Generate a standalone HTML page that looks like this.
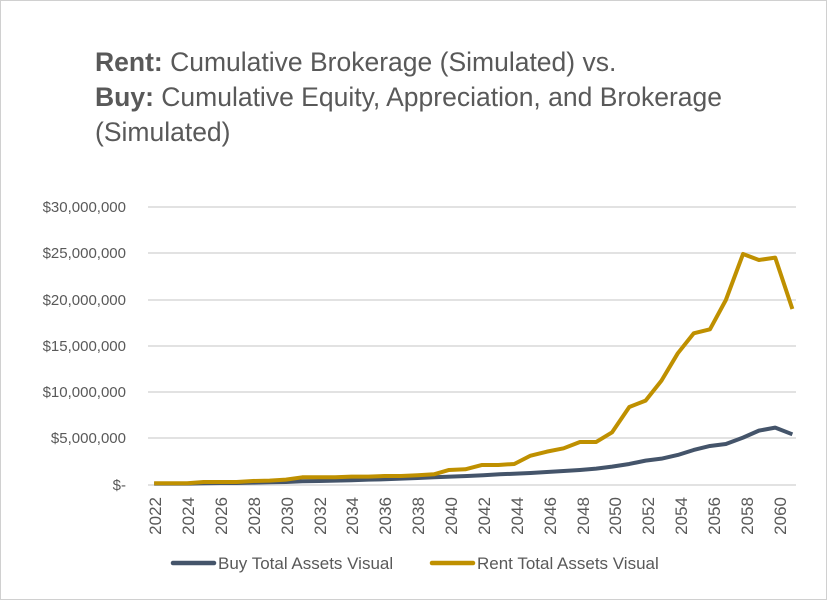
<!DOCTYPE html>
<html><head><meta charset="utf-8"><style>
body{margin:0;background:#fff;}
svg{display:block;font-family:"Liberation Sans",sans-serif;}
</style></head><body>
<svg width="827" height="600" viewBox="0 0 827 600" xmlns="http://www.w3.org/2000/svg">
<rect x="0.5" y="0.5" width="826" height="599" fill="#fff" stroke="#d0d0d0"/>
<g fill="#595959" font-size="26.5">
<text x="95" y="71"><tspan font-weight="bold">Rent:</tspan> Cumulative Brokerage (Simulated) vs.</text>
<text x="95" y="106"><tspan font-weight="bold">Buy:</tspan> Cumulative Equity, Appreciation, and Brokerage</text>
<text x="95" y="141">(Simulated)</text>
</g>
<g stroke="#d9d9d9" stroke-width="1.5">
<line x1="148" x2="796" y1="207" y2="207"/><line x1="148" x2="796" y1="253" y2="253"/>
<line x1="148" x2="796" y1="300" y2="300"/><line x1="148" x2="796" y1="346" y2="346"/>
<line x1="148" x2="796" y1="392" y2="392"/><line x1="148" x2="796" y1="438" y2="438"/>
<line x1="148" x2="796" y1="485" y2="485"/>
</g>
<g fill="#595959" font-size="15" text-anchor="end">
<text x="126" y="212">$30,000,000</text><text x="126" y="258">$25,000,000</text>
<text x="126" y="305">$20,000,000</text><text x="126" y="351">$15,000,000</text>
<text x="126" y="397">$10,000,000</text><text x="126" y="443">$5,000,000</text>
<text x="126" y="490">$-</text>
</g>
<g fill="#595959" font-size="17" text-anchor="end">
<text transform="translate(161,497) rotate(-90)">2022</text>
<text transform="translate(194,497) rotate(-90)">2024</text>
<text transform="translate(227,497) rotate(-90)">2026</text>
<text transform="translate(260,497) rotate(-90)">2028</text>
<text transform="translate(293,497) rotate(-90)">2030</text>
<text transform="translate(326,497) rotate(-90)">2032</text>
<text transform="translate(358,497) rotate(-90)">2034</text>
<text transform="translate(391,497) rotate(-90)">2036</text>
<text transform="translate(424,497) rotate(-90)">2038</text>
<text transform="translate(457,497) rotate(-90)">2040</text>
<text transform="translate(490,497) rotate(-90)">2042</text>
<text transform="translate(523,497) rotate(-90)">2044</text>
<text transform="translate(556,497) rotate(-90)">2046</text>
<text transform="translate(589,497) rotate(-90)">2048</text>
<text transform="translate(621,497) rotate(-90)">2050</text>
<text transform="translate(654,497) rotate(-90)">2052</text>
<text transform="translate(687,497) rotate(-90)">2054</text>
<text transform="translate(720,497) rotate(-90)">2056</text>
<text transform="translate(753,497) rotate(-90)">2058</text>
<text transform="translate(786,497) rotate(-90)">2060</text>
</g>
<g transform="translate(140,190) scale(0.4292,0.3333)" fill="none" stroke-linejoin="round">
<polyline vector-effect="non-scaling-stroke" stroke="#44546a" stroke-width="4" points="33,881 71,881 110,881 148,880 187,879 225,879 263,878 302,877 340,876 378,874 417,873 455,872 493,871 532,869 570,868 608,866 647,864 685,862 723,860 762,858 800,856 838,853 877,851 910,849 948,846 987,843 1025,840 1063,836 1100,830 1140,822 1178,812 1215,806 1253,795 1290,780 1328,768 1365,762 1405,743 1442,722 1480,713 1520,733"/>
<polyline vector-effect="non-scaling-stroke" stroke="#bf9000" stroke-width="4" points="33,880 71,880 110,880 148,876 187,876 225,876 263,873 302,872 340,869 378,862 417,862 455,862 493,860 532,860 570,858 608,858 647,856 685,853 720,840 758,838 797,825 835,825 872,822 910,797 948,785 987,775 1025,756 1063,756 1100,727 1140,651 1178,632 1215,572 1253,490 1290,430 1328,418 1365,330 1405,192 1442,210 1480,203 1520,357"/>
</g>
<line x1="173" x2="214" y1="563" y2="563" stroke="#44546a" stroke-width="4.5" stroke-linecap="round"/>
<text x="218" y="569" font-size="17" fill="#595959">Buy Total Assets Visual</text>
<line x1="432" x2="473" y1="563" y2="563" stroke="#bf9000" stroke-width="4.5" stroke-linecap="round"/>
<text x="477" y="569" font-size="17" fill="#595959">Rent Total Assets Visual</text>
</svg>
</body></html>
